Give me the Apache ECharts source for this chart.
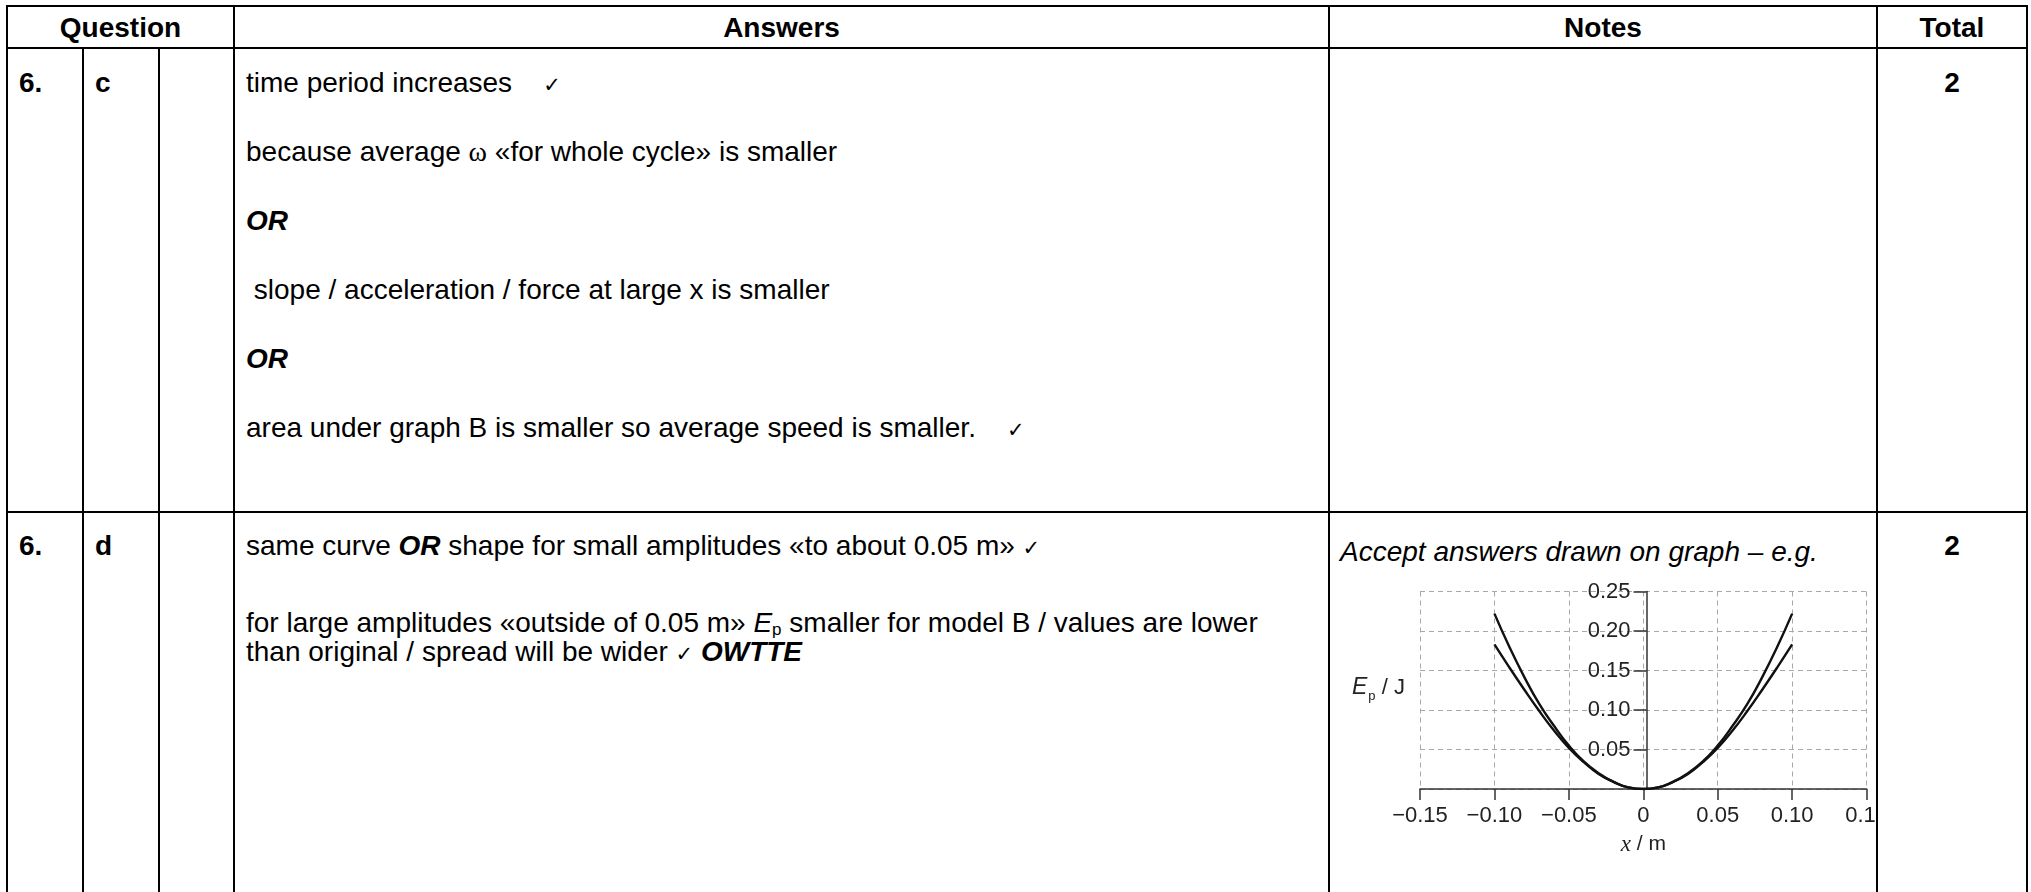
<!DOCTYPE html>
<html>
<head>
<meta charset="utf-8">
<title>Markscheme 6 c/d</title>
<script src="https://cdn.jsdelivr.net/npm/echarts@6/dist/echarts.min.js"></script>
<style>
body{margin:0;background:#fff;width:2031px;height:892px;overflow:hidden;position:relative;font-family:"Liberation Sans",Arial,sans-serif;font-size:28px;color:#000}
.hl{position:absolute;height:2px;background:#000}
.vl{position:absolute;width:2px;background:#000}
.t{position:absolute;white-space:nowrap;line-height:34px}
.b{font-weight:bold}
.bi{font-weight:bold;font-style:italic}
.ck{font-family:"DejaVu Sans",sans-serif;font-size:21px}
.w{font-family:"Liberation Serif","Times New Roman",serif}
sub{font-size:17px;vertical-align:-3px;line-height:0}
#wrap{position:absolute;left:1331px;top:565px;width:545px;height:320px;overflow:hidden}
#graph{width:560px;height:320px}
</style>
</head>
<body>
<!-- table lines -->
<div class="hl" style="left:6px;top:5px;width:2022px"></div>
<div class="hl" style="left:6px;top:47px;width:2022px"></div>
<div class="hl" style="left:6px;top:511px;width:2022px"></div>
<div class="vl" style="left:6px;top:5px;height:900px"></div>
<div class="vl" style="left:82px;top:47px;height:900px"></div>
<div class="vl" style="left:158px;top:47px;height:900px"></div>
<div class="vl" style="left:233px;top:5px;height:900px"></div>
<div class="vl" style="left:1328px;top:5px;height:900px"></div>
<div class="vl" style="left:1876px;top:5px;height:900px"></div>
<div class="vl" style="left:2026px;top:5px;height:900px"></div>

<!-- header -->
<div class="t b" style="left:7px;width:227px;top:11px;text-align:center">Question</div>
<div class="t b" style="left:234px;width:1095px;top:11px;text-align:center">Answers</div>
<div class="t b" style="left:1329px;width:548px;top:11px;text-align:center">Notes</div>
<div class="t b" style="left:1877px;width:150px;top:11px;text-align:center">Total</div>

<!-- row 6 c -->
<div class="t b" style="left:19px;top:66px">6.</div>
<div class="t b" style="left:95px;top:66px">c</div>
<div class="t" style="left:246px;top:66px">time period increases &nbsp;&nbsp; <span class="ck">✓</span></div>
<div class="t" style="left:246px;top:135px">because average <span class="w">ω</span> «for whole cycle» is smaller</div>
<div class="t bi" style="left:246px;top:204px">OR</div>
<div class="t" style="left:246px;top:273px">&nbsp;slope / acceleration / force at large x is smaller</div>
<div class="t bi" style="left:246px;top:342px">OR</div>
<div class="t" style="left:246px;top:411px">area under graph B is smaller so average speed is smaller. &nbsp;&nbsp; <span class="ck">✓</span></div>
<div class="t b" style="left:1877px;width:150px;top:66px;text-align:center">2</div>

<!-- row 6 d -->
<div class="t b" style="left:19px;top:529px">6.</div>
<div class="t b" style="left:95px;top:529px">d</div>
<div class="t" style="left:246px;top:529px">same curve <span class="bi">OR</span> shape for small amplitudes «to about 0.05 m» <span class="ck">✓</span></div>
<div class="t" style="left:246px;top:608px;line-height:29px">for large amplitudes «outside of 0.05 m» <i>E</i><sub>p</sub> smaller for model B / values are lower<br>than original / spread will be wider <span class="ck">✓</span> <span class="bi">OWTTE</span></div>
<div class="t" style="left:1340px;top:535px;font-style:italic">Accept answers drawn on graph – e.g.</div>
<div class="t b" style="left:1877px;width:150px;top:529px;text-align:center">2</div>

<div id="wrap"><div id="graph"></div></div>

<script>
// displacement x / m
var xVals = [-0.10, -0.09, -0.08, -0.07, -0.06, -0.05, -0.04, -0.03, -0.02, -0.01, 0,
             0.01, 0.02, 0.03, 0.04, 0.05, 0.06, 0.07, 0.08, 0.09, 0.10];
// Ep / J, original model (steeper curve)
var epOriginal = [0.222, 0.180, 0.142, 0.108, 0.080, 0.055, 0.035, 0.020, 0.009, 0.002, 0,
                  0.002, 0.009, 0.020, 0.035, 0.055, 0.080, 0.108, 0.142, 0.180, 0.222];
// Ep / J, model B (lower at large amplitudes)
var epModelB = [0.183, 0.154, 0.126, 0.099, 0.074, 0.052, 0.034, 0.019, 0.009, 0.002, 0,
                0.002, 0.009, 0.019, 0.034, 0.052, 0.074, 0.099, 0.126, 0.154, 0.183];

var xTickLabels = ['\u22120.15', '\u22120.10', '\u22120.05', '0', '0.05', '0.10', '0.15'];
var yTickLabels = ['', '0.05', '0.10', '0.15', '0.20', '0.25'];

var chart = echarts.init(document.getElementById('graph'));

function pairs(ys) {
    return xVals.map(function (x, i) { return [x, ys[i]]; });
}

var lbl = {fontFamily: '"Liberation Sans", Arial, sans-serif', fontSize: 22, color: '#222'};
var dash = {color: '#a8a8a8', width: 1, type: [5, 4]};

// grid: 453px wide, so x = 0 sits 226.5px right of the left edge
var option = {
    animation: false,
    grid: {left: 89, right: 18, top: 26.5, bottom: 96},
    xAxis: {
        type: 'value', min: -0.15, max: 0.15, interval: 0.05,
        name: '{i|x} / m', nameLocation: 'middle', nameGap: 44,
        nameTextStyle: {
            fontFamily: '"Liberation Sans", Arial, sans-serif', fontSize: 21, color: '#222',
            rich: {i: {fontFamily: '"Liberation Serif", serif', fontStyle: 'italic', fontSize: 23, color: '#222'}}
        },
        axisLine: {lineStyle: {color: '#333', width: 1.5}},
        axisTick: {length: 11, lineStyle: {color: '#333', width: 1.5}},
        axisLabel: Object.assign({margin: 16, formatter: function (v) {
            return xTickLabels[Math.round((v + 0.15) / 0.05)];
        }}, lbl),
        splitLine: {show: true, lineStyle: dash}
    },
    yAxis: {
        type: 'value', min: 0, max: 0.25, interval: 0.05,
        offset: -226.5,
        axisLine: {show: true, onZero: false, lineStyle: {color: '#333', width: 1.5}},
        axisTick: {show: true, length: 13, lineStyle: {color: '#333', width: 1.5}},
        axisLabel: Object.assign({margin: 16, formatter: function (v) {
            return yTickLabels[Math.round(v / 0.05)];
        }}, lbl),
        splitLine: {show: true, lineStyle: dash}
    },
    graphic: [{
        type: 'text', left: 21, top: 108,
        style: {
            text: '{e|E}{s|p}{n| / J}',
            rich: {
                e: {fontFamily: '"Liberation Sans", Arial', fontStyle: 'italic', fontSize: 23, fill: '#222', lineHeight: 30, verticalAlign: 'top', padding: [3, 0, 0, 0]},
                s: {fontFamily: '"Liberation Sans", Arial', fontSize: 13, fill: '#222', lineHeight: 30, verticalAlign: 'bottom', padding: [0, 0, 0, 1]},
                n: {fontFamily: '"Liberation Sans", Arial', fontSize: 22, fill: '#222', lineHeight: 30, verticalAlign: 'top', padding: [4, 0, 0, 0]}
            }
        }
    }],
    series: [{
        name: 'original',
        type: 'line', smooth: true, showSymbol: false,
        lineStyle: {color: '#111', width: 2.4},
        data: pairs(epOriginal)
    }, {
        name: 'model B',
        type: 'line', smooth: true, showSymbol: false,
        lineStyle: {color: '#111', width: 2.4},
        data: pairs(epModelB)
    }]
};

chart.setOption(option);
</script>
</body>
</html>
